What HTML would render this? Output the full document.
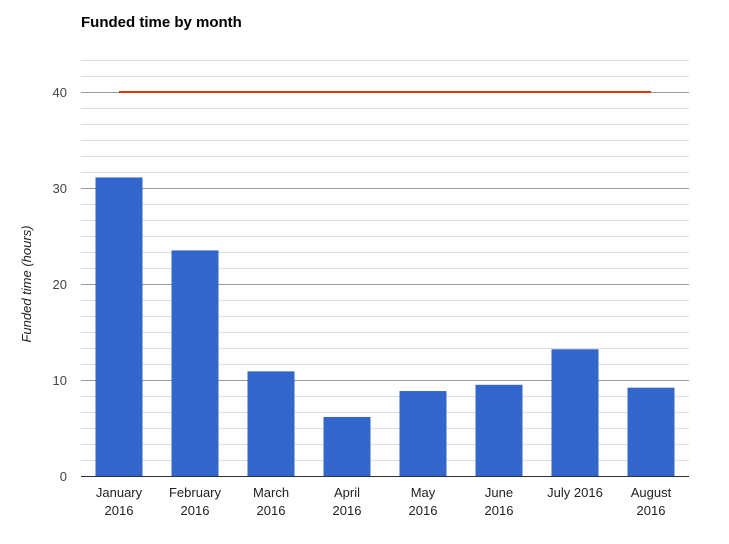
<!DOCTYPE html>
<html><head><meta charset="utf-8"><style>
body{margin:0;background:#fff;font-family:"Liberation Sans",Arial,sans-serif}
svg text{font-family:"Liberation Sans",Arial,sans-serif}
</style></head><body>
<svg id="chart" width="729" height="539" xmlns="http://www.w3.org/2000/svg">
<rect width="729" height="539" fill="#fff"/>
<text x="81" y="27" font-size="15" font-weight="bold" fill="#000">Funded time by month</text>
<text transform="translate(31,284) rotate(-90)" text-anchor="middle" font-size="13" font-style="italic" fill="#222">Funded time (hours)</text>
<g id="grid"></g><g id="bars"></g><g id="xlabels"></g><g id="ylabels"></g><g id="target"></g>
</svg>
<script>
const categories=[["January","2016"],["February","2016"],["March","2016"],["April","2016"],["May","2016"],["June","2016"],["July 2016"],["August","2016"]];
const values=[31.1,23.5,10.9,6.15,8.85,9.5,13.2,9.2];
const targetValue=[40];
const yTicks=[0,10,20,30,40];
const NS="http://www.w3.org/2000/svg";
const x0=81,x1=689,y0=476,pxPerUnit=9.6,yMax=43.34;
const band=(x1-x0)/categories.length,barW=47;
const y=v=>y0-v*pxPerUnit;
const cx=i=>x0+band*(i+0.5);
function mk(tag,attrs,parent){const e=document.createElementNS(NS,tag);for(const k in attrs)e.setAttribute(k,attrs[k]);parent.appendChild(e);return e;}
const grid=document.getElementById('grid');
for(let k=0;k*10/6<=yMax+0.01;k++){
 const v=k*10/6;const major=k%6===0;
 const l=mk('line',{x1:x0,x2:x1,y1:y(v)+0.5,y2:y(v)+0.5,stroke:major?(k===0?'#333':'#999'):'#ddd','stroke-width':1},grid);
 
 
}
const yl=document.getElementById('ylabels');
yTicks.forEach(t=>{const e=mk('text',{x:67,y:y(t)+5,'text-anchor':'end','font-size':13,fill:'#444'},yl);e.textContent=t;
 
 });
const bars=document.getElementById('bars');
values.forEach((v,i)=>{const r=mk('rect',{x:cx(i)-barW/2,y:y(v),width:barW,height:v*pxPerUnit,fill:'#3366cc'},bars);
 
 });
const xl=document.getElementById('xlabels');
categories.forEach((c,i)=>{const t=mk('text',{x:cx(i),y:497,'text-anchor':'middle','font-size':13,fill:'#222'},xl);
 
 
 c.forEach((s,j)=>{const ts=mk('tspan',{x:cx(i),dy:j?18:0},t);ts.textContent=s;});});
const tg=document.getElementById('target');
const tl=mk('line',{x1:cx(0),x2:cx(categories.length-1),y1:y(targetValue[0]),y2:y(targetValue[0]),stroke:'#dc3912','stroke-width':2},tg);


</script>
</body></html>
